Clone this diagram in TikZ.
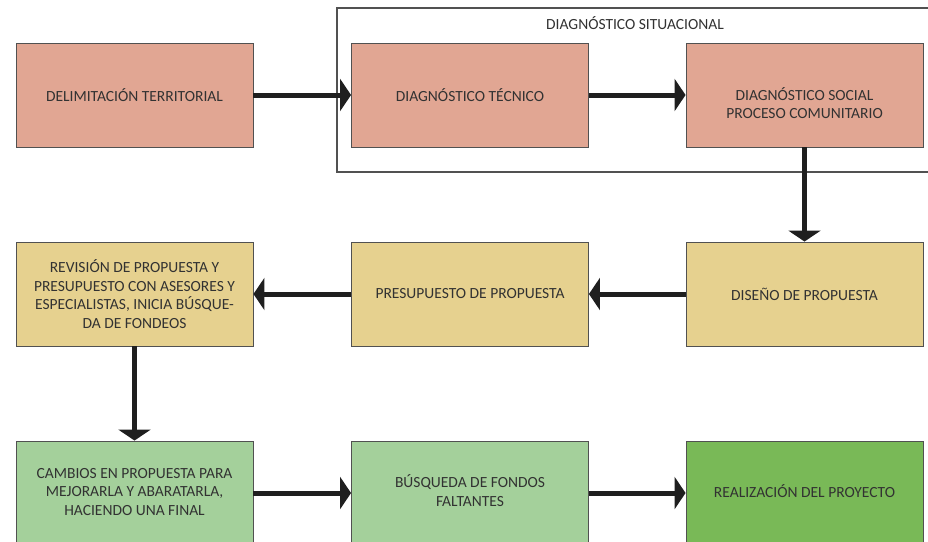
\documentclass[tikz,border=0pt]{standalone}
\usepackage{fontspec}
\setmainfont{Carlito}
\usetikzlibrary{arrows.meta, positioning}
\definecolor{diagred}{RGB}{225, 166, 147}
\definecolor{propyellow}{RGB}{230, 209, 143}
\definecolor{fondgreen}{RGB}{164, 208, 155}
\definecolor{realgreen}{RGB}{121, 185, 87}
\definecolor{inkgray}{RGB}{50, 50, 50}

\begin{document}
\begin{tikzpicture}[x=1pt, y=-1pt,
    box/.style={draw=inkgray!85, line width=0.9pt, minimum width=237pt, minimum height=104pt,
      inner sep=0pt, align=center, text=inkgray, font=\fontsize{15.5}{18.7}\selectfont},
    flow/.style={line width=5pt, draw=black!88, -{Triangle[length=11pt, width=32pt]}}]
    \useasboundingbox (0,0) rectangle (928,541);
    % marco del diagnostico situacional
    \draw[inkgray!85, line width=1.1pt] (337,8) rectangle (940,172);
    \node[text=inkgray, font=\fontsize{15.5}{16}\selectfont] (situacional) at (635,23) {DIAGNÓSTICO SITUACIONAL};
    % fila 1
    \node[box, fill=diagred] (delim) at (134.5,95) {DELIMITACIÓN TERRITORIAL};
    \node[box, fill=diagred] (dtecnico) at (470,95) {DIAGNÓSTICO TÉCNICO};
    \node[box, fill=diagred, label={[text=inkgray, align=center, font=\fontsize{15.5}{18.7}\selectfont, yshift=-8pt]center:{DIAGNÓSTICO SOCIAL\\PROCESO COMUNITARIO}}] (dsocial) at (804.5,95) {};
    % fila 2
    \node[box, fill=propyellow] (revision) at (134.5,294) {REVISIÓN DE PROPUESTA Y\\PRESUPUESTO CON ASESORES Y\\ESPECIALISTAS, INICIA BÚSQUE-\\DA DE FONDEOS};
    \node[box, fill=propyellow] (presupuesto) at (470,294) {PRESUPUESTO DE PROPUESTA};
    \node[box, fill=propyellow] (diseno) at (804.5,294) {DISEÑO DE PROPUESTA};
    % fila 3
    \node[box, fill=fondgreen] (cambios) at (134.5,493) {\raisebox{4pt}{\begin{tabular}{@{}c@{}}CAMBIOS EN PROPUESTA PARA\\MEJORARLA Y ABARATARLA,\\HACIENDO UNA FINAL\end{tabular}}};
    \node[box, fill=fondgreen] (busqueda) at (470,493) {\raisebox{4pt}{\begin{tabular}{@{}c@{}}BÚSQUEDA DE FONDOS\\FALTANTES\end{tabular}}};
    \node[box, fill=realgreen] (realizacion) at (804.5,493) {\raisebox{3pt}{REALIZACIÓN DEL PROYECTO}};

    \draw[flow] (delim) -- (dtecnico);
    \draw[flow] (dtecnico) -- (dsocial);
    \draw[flow] (dsocial) -- (diseno);
    \draw[flow] (diseno) -- (presupuesto);
    \draw[flow] (presupuesto) -- (revision);
    \draw[flow] (revision) -- (cambios);
    \draw[flow] (cambios) -- (busqueda);
    \draw[flow] (busqueda) -- (realizacion);
  \end{tikzpicture}
\end{document}
